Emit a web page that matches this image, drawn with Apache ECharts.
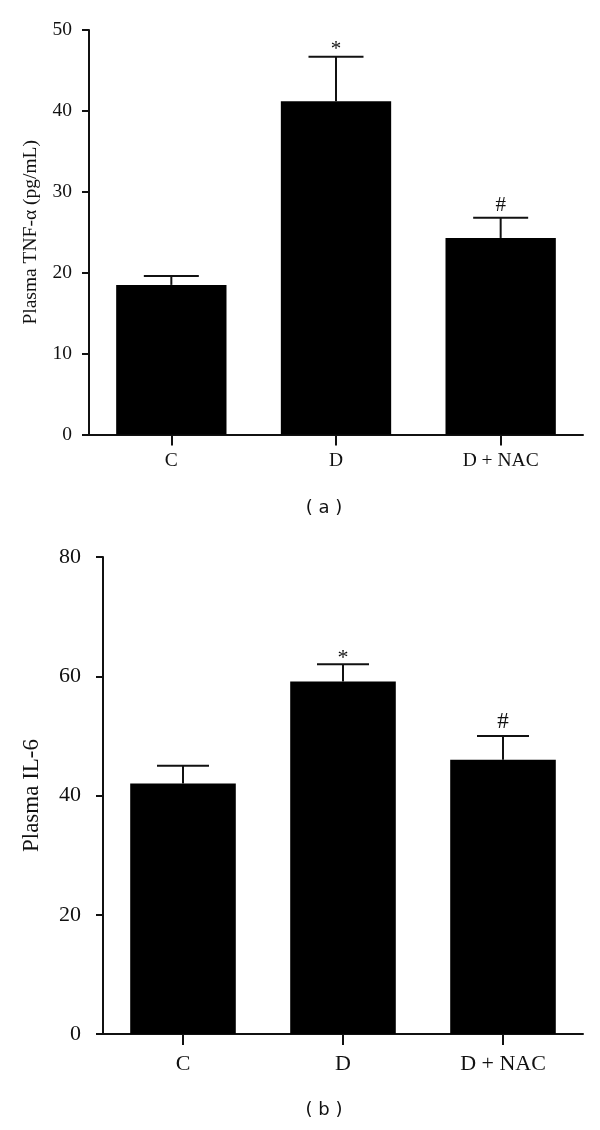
<!DOCTYPE html>
<html>
<head>
<meta charset="utf-8">
<script src="https://cdn.jsdelivr.net/npm/echarts@6/dist/echarts.min.js"></script>
<style>
  html, body { margin: 0; padding: 0; background: #fff; }
  #main { width: 600px; height: 1130px; }
</style>
</head>
<body>
<div id="main"></div>
<script>
// ---- data ----
const categories = ['C', 'D', 'D + NAC'];
const tnfMean = [18.5, 41.2, 24.3];
const tnfErr = [1.1, 5.5, 2.5];
const tnfMarks = ['', '*', '#'];
const il6Mean = [42.0, 59.1, 46.0];
const il6Err = [3.0, 2.9, 4.0];
const il6Marks = ['', '*', '#'];
const tnfTicks = { min: 0, max: 50, interval: 10 };
const il6Ticks = { min: 0, max: 80, interval: 20 };

const chart = echarts.init(document.getElementById('main'), null, { renderer: 'canvas' });
const serif = '"Liberation Serif", "Times New Roman", serif';

function errRender(marks, capFrac, markStyle) {
  return function (params, api) {
    const x = api.value(0), m = api.value(1), e = api.value(2);
    const base = api.coord([x, m]);
    const top = api.coord([x, m + e]);
    const half = api.size([1, 0])[0] * capFrac / 2;
    const style = { stroke: '#111', lineWidth: 2 };
    const children = [
      { type: 'line', shape: { x1: base[0], y1: base[1], x2: top[0], y2: top[1] }, style: style },
      { type: 'line', shape: { x1: top[0] - half, y1: top[1], x2: top[0] + half, y2: top[1] }, style: style }
    ];
    const mk = marks[params.dataIndex];
    if (mk) {
      const s = markStyle[mk];
      children.push({
        type: 'text',
        style: { text: mk, x: top[0], y: top[1] - s.lift, align: 'center', verticalAlign: 'bottom',
                 font: s.size + 'px ' + serif, fill: '#111' }
      });
    }
    return { type: 'group', children: children };
  };
}

function yAxisCfg(gi, name, ticks, fs, nameFs, nameGap, margin) {
  return {
    gridIndex: gi, type: 'value', min: ticks.min, max: ticks.max, interval: ticks.interval,
    name: name, nameLocation: 'middle', nameRotate: 90, nameGap: nameGap,
    nameTextStyle: { fontFamily: serif, fontSize: nameFs, color: '#111' },
    axisLine: { show: true, lineStyle: { color: '#111', width: 2 } },
    axisTick: { show: true, inside: false, length: 7, lineStyle: { color: '#111', width: 2 } },
    axisLabel: { fontFamily: serif, fontSize: fs, color: '#111', margin: margin },
    splitLine: { show: false }
  };
}
function xAxisCfg(gi, fs, margin) {
  return {
    gridIndex: gi, type: 'category', data: categories,
    axisLine: { show: true, lineStyle: { color: '#111', width: 2 } },
    axisTick: { show: true, alignWithLabel: true, length: 11, lineStyle: { color: '#111', width: 2 } },
    axisLabel: { fontFamily: serif, fontSize: fs, color: '#111', margin: margin },
    splitLine: { show: false }
  };
}

const option = {
  backgroundColor: '#fff',
  animation: false,
  grid: [
    { left: 89, top: 30, width: 494, height: 404.6 },
    { left: 103, top: 557, width: 480, height: 477 }
  ],
  xAxis: [xAxisCfg(0, 19.5, 16.5), xAxisCfg(1, 22, 19)],
  yAxis: [
    yAxisCfg(0, 'Plasma TNF-α (pg/mL)', tnfTicks, 19.5, 19.5, 48, 17),
    yAxisCfg(1, 'Plasma IL-6', il6Ticks, 22, 23, 59.5, 22)
  ],
  graphic: [
    { type: 'text', x: 324, y: 508, style: { text: '( a )', x: 0, y: 0, align: 'center', verticalAlign: 'middle',
      font: '18px "DejaVu Sans", sans-serif', fill: '#111' } },
    { type: 'text', x: 324, y: 1110, style: { text: '( b )', x: 0, y: 0, align: 'center', verticalAlign: 'middle',
      font: '18px "DejaVu Sans", sans-serif', fill: '#111' } }
  ],
  series: [
    { type: 'bar', xAxisIndex: 0, yAxisIndex: 0, data: tnfMean, barWidth: '67%',
      itemStyle: { color: '#000' }, z: 2 },
    { type: 'custom', xAxisIndex: 0, yAxisIndex: 0, z: 3,
      data: categories.map((c, i) => [i, tnfMean[i], tnfErr[i]]),
      renderItem: errRender(tnfMarks, 0.334, { '*': { size: 21, lift: -3.5 }, '#': { size: 21, lift: 2 } }) },
    { type: 'bar', xAxisIndex: 1, yAxisIndex: 1, data: il6Mean, barWidth: '66%',
      itemStyle: { color: '#000' }, z: 2 },
    { type: 'custom', xAxisIndex: 1, yAxisIndex: 1, z: 3,
      data: categories.map((c, i) => [i, il6Mean[i], il6Err[i]]),
      renderItem: errRender(il6Marks, 0.325, { '*': { size: 22, lift: -5 }, '#': { size: 23, lift: 2.3 } }) }
  ]
};
chart.setOption(option);
</script>
</body>
</html>
